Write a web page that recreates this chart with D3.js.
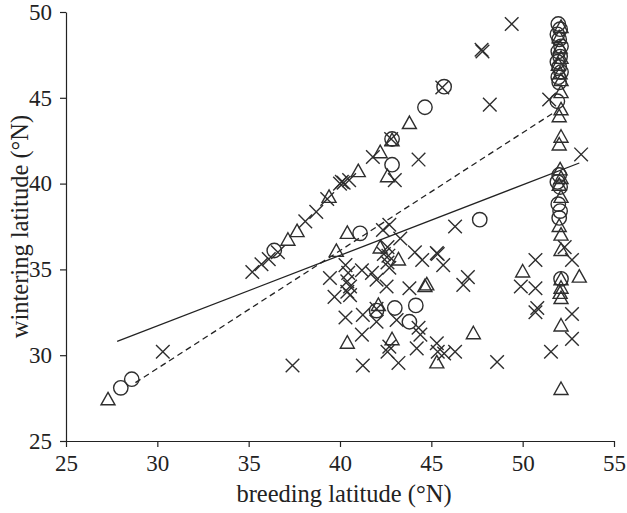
<!DOCTYPE html>
<html><head><meta charset="utf-8">
<script src="https://cdn.jsdelivr.net/npm/d3@7"></script>
<style>
body{margin:0;background:#fff;}
svg{display:block;}
text{font-family:"Liberation Serif","Times New Roman",serif;fill:#222;}
</style></head>
<body>
<svg id="chart" width="627" height="513"></svg>
<script>
const xTicks = [25, 30, 35, 40, 45, 50, 55];
const yTicks = [25, 30, 35, 40, 45, 50];
const xTitle = "breeding latitude (°N)";
const yTitle = "wintering latitude (°N)";

const crosses = [
  [30.3,30.2],[35.2,34.85],[35.7,35.3],[36.1,35.6],[36.6,36.0],[38.1,37.8],[38.7,38.35],[39.3,39.1],
  [40.0,40.0],[40.1,40.1],[40.2,40.05],[40.5,40.2],[41.8,41.55],[42.8,42.6],[43.0,40.2],[44.3,41.4],
  [45.6,45.6],[47.8,47.7],[47.75,47.8],[49.4,49.3],[48.2,44.6],[51.45,44.9],[53.2,41.7],
  [42.35,37.3],[42.7,37.6],[43.3,36.8],[42.6,36.3],[42.65,35.8],[42.6,35.4],[42.7,35.1],[42.4,35.9],
  [44.1,36.0],[44.5,35.55],[45.3,35.95],[45.35,35.9],[45.65,35.25],[39.45,34.5],[40.3,35.25],
  [40.45,34.8],[40.4,34.3],[40.55,34.0],[40.4,33.7],[41.2,34.95],[41.75,34.8],[42.0,34.4],[42.55,34.0],
  [39.7,33.4],[40.55,33.5],[43.8,33.9],[41.25,32.35],[40.3,32.2],[42.0,31.95],[43.1,32.05],[44.3,31.6],
  [41.2,31.2],[42.7,30.5],[45.3,30.7],[44.2,30.4],[45.35,30.2],[44.4,31.2],[41.25,29.4],[37.4,29.4],
  [42.6,30.2],[43.2,29.55],[45.7,30.1],[46.3,37.5],[47.0,34.55],[46.75,34.1],[46.3,30.2],[48.6,29.6],
  [50.7,35.55],[49.9,34.0],[50.7,33.9],[50.8,32.75],[50.7,32.5],[52.3,36.3],[52.7,35.55],[52.7,32.4],
  [52.7,30.95],[51.55,30.2],[42.0,32.7]
];
const circles = [
  [28.0,28.1],[28.6,28.6],[36.4,36.1],[42.85,42.6],[44.65,44.45],[45.7,45.65],[42.85,41.1],[41.1,37.1],
  [47.65,37.9],[42.0,32.6],[43.0,32.75],[44.15,32.9],[43.8,31.95],
  [51.95,49.3],[52.05,49.0],[51.9,48.7],[52.0,48.4],[52.1,48.0],[51.95,47.7],[52.05,47.4],[51.9,47.1],
  [52.0,46.8],[52.1,46.5],[51.95,46.2],[52.0,45.9],[51.9,44.8],
  [52.0,40.5],[51.9,40.1],[52.05,39.8],[51.95,38.8],[52.05,38.4],[52.0,38.0],[52.1,34.45]
];
const triangles = [
  [27.3,27.4],[37.15,36.7],[37.65,37.2],[39.4,39.2],[41.0,40.7],[42.2,41.8],[42.6,40.4],[42.85,42.5],
  [43.8,43.5],[40.4,37.1],[39.8,36.05],[42.2,36.25],[43.2,35.55],[44.75,34.1],[44.65,34.0],[42.1,32.9],
  [40.4,30.7],[42.85,30.9],[45.3,29.55],[47.3,31.25],[50.0,34.85],[53.1,34.55],[52.1,31.7],[52.1,28.0],
  [52.1,49.1],[52.0,48.5],[52.05,47.9],[52.1,47.3],[51.95,46.9],[52.05,46.4],[52.1,46.0],[52.1,45.3],
  [52.1,44.3],[52.0,43.9],[52.1,42.7],[52.0,42.25],[52.05,40.8],[52.1,40.3],[52.0,39.9],[52.1,39.2],
  [52.0,37.5],[52.1,37.0],[52.1,36.1],[52.1,34.4],[52.1,33.9],[52.05,33.6],[52.1,33.3]
];
const solidLine = [[27.8,30.8],[53.1,41.2]];
const dashedLine = [[28.8,28.4],[51.65,44.1]];

const svg = d3.select("#chart");
const m = {left:66, right:13, top:12, bottom:72};
const W = 627, H = 513;
const x = d3.scaleLinear().domain([25,55]).range([m.left, W - m.right]);
const y = d3.scaleLinear().domain([25,50]).range([H - m.bottom, m.top]);
const ink = "#2e2e2e";

const gx = svg.append("g").attr("transform",`translate(0,${H - m.bottom})`)
  .call(d3.axisBottom(x).tickValues(xTicks).tickSize(6).tickPadding(8).tickSizeOuter(0));
const gy = svg.append("g").attr("transform",`translate(${m.left},0)`)
  .call(d3.axisLeft(y).tickValues(yTicks).tickSize(6).tickPadding(8).tickSizeOuter(0));
[gx, gy].forEach(g => {
  g.selectAll("path,line").attr("stroke","#222").attr("stroke-width",1.2);
  g.selectAll("text").attr("font-size",23).attr("font-family",'"Liberation Serif",serif').attr("fill","#222");
});

svg.append("text").attr("x",(m.left + W - m.right)/2 + 4).attr("y",502).attr("text-anchor","middle")
  .attr("font-size",24.5).text(xTitle);
svg.append("text").attr("transform",`translate(28,${(m.top + H - m.bottom)/2}) rotate(-90)`)
  .attr("text-anchor","middle").attr("font-size",24.5).text(yTitle);

const line = d3.line().x(d => x(d[0])).y(d => y(d[1]));
svg.append("path").datum(solidLine).attr("d",line).attr("fill","none").attr("stroke","#222").attr("stroke-width",1.3);
svg.append("path").datum(dashedLine).attr("d",line).attr("fill","none").attr("stroke","#222")
  .attr("stroke-width",1.3).attr("stroke-dasharray","6,4");

const g = svg.append("g").attr("fill","none").attr("stroke",ink).attr("stroke-width",1.4);
const cs = 6.8;
g.selectAll("path.cross").data(crosses).join("path").attr("class","cross")
  .attr("d", d => { const px = x(d[0]), py = y(d[1]);
    return `M${px-cs},${py-cs}L${px+cs},${py+cs}M${px-cs},${py+cs}L${px+cs},${py-cs}`; });
g.selectAll("circle").data(circles).join("circle")
  .attr("cx", d => x(d[0])).attr("cy", d => y(d[1])).attr("r",7.2);
const tw = 7, th = 12.5;
g.selectAll("path.tri").data(triangles).join("path").attr("class","tri")
  .attr("d", d => { const px = x(d[0]), py = y(d[1]);
    return `M${px},${py - th*0.6}L${px+tw},${py + th*0.4}L${px-tw},${py + th*0.4}Z`; });
</script>
</body></html>
